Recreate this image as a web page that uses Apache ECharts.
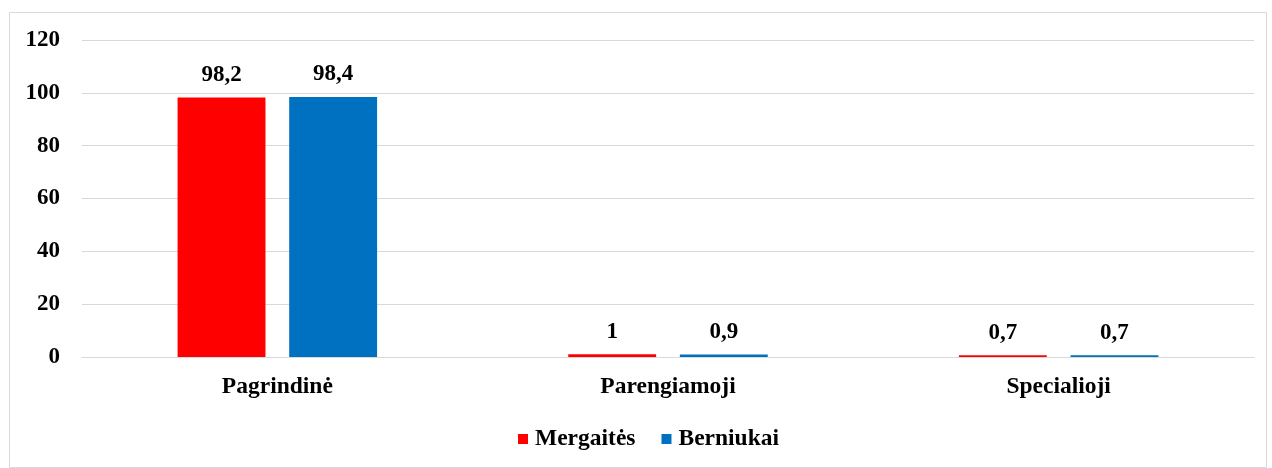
<!DOCTYPE html>
<html>
<head>
<meta charset="utf-8">
<script src="https://cdn.jsdelivr.net/npm/echarts@6/dist/echarts.min.js"></script>
<style>
html,body{margin:0;padding:0;background:#fff;}
#c{width:1272px;height:468px;}
</style>
</head>
<body>
<div id="c"></div>
<script>
const categories = ['Pagrindinė', 'Parengiamoji', 'Specialioji'];
const seriesNames = ['Mergaitės', 'Berniukai'];
const girls = [98.2, 1, 0.7];
const boys = [98.4, 0.9, 0.7];
const colors = ['#FF0000', '#0070C0'];

const font = '"Liberation Serif", "Times New Roman", serif';
const fmt = p => String(p.value).replace('.', ',');

const chart = echarts.init(document.getElementById('c'));
chart.setOption({
  animation: false,
  textStyle: { fontFamily: font },
  graphic: [{
    type: 'rect', left: 7, top: 10, silent: true,
    shape: { width: 1257, height: 455 },
    style: { fill: 'none', stroke: '#d9d9d9', lineWidth: 1 }
  }],
  grid: { left: 82, right: 18, top: 40, bottom: 111, containLabel: false },
  legend: {
    bottom: 12, left: 513,
    itemWidth: 10, itemHeight: 10, itemGap: 26,
    icon: 'rect',
    textStyle: { fontFamily: font, fontSize: 23.5, fontWeight: 'bold', color: '#000', padding: [0, 0, 0, 2] },
    data: seriesNames
  },
  xAxis: {
    type: 'category', data: categories,
    axisLine: { lineStyle: { color: '#d9d9d9', width: 1 } },
    axisTick: { show: false },
    axisLabel: { fontFamily: font, fontSize: 23.5, fontWeight: 'bold', color: '#000', margin: 18 }
  },
  yAxis: {
    type: 'value', min: 0, max: 120, interval: 20,
    axisLine: { show: false }, axisTick: { show: false },
    splitLine: { lineStyle: { color: '#d9d9d9', width: 1 } },
    axisLabel: { fontFamily: font, fontSize: 23, fontWeight: 'bold', color: '#000', margin: 22 }
  },
  series: [
    {
      name: seriesNames[0], type: 'bar', data: girls, barWidth: '22.5%', barGap: '27%',
      itemStyle: { color: colors[0] },
      label: { show: true, position: 'top', distance: 11, formatter: fmt, fontFamily: font, fontSize: 23, fontWeight: 'bold', color: '#000' }
    },
    {
      name: seriesNames[1], type: 'bar', data: boys, barWidth: '22.5%', barGap: '27%',
      itemStyle: { color: colors[1] },
      label: { show: true, position: 'top', distance: 11, formatter: fmt, fontFamily: font, fontSize: 23, fontWeight: 'bold', color: '#000' }
    }
  ]
});
</script>
</body>
</html>
